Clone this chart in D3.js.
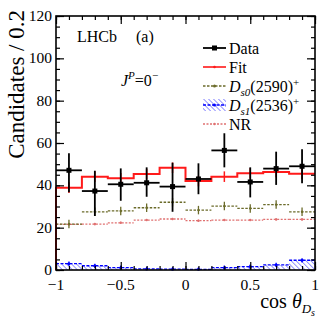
<!DOCTYPE html>
<html><head><meta charset="utf-8">
<script src="https://cdn.jsdelivr.net/npm/d3@7"></script>
<style>body{margin:0;background:#fff}svg{display:block}text{font-family:"Liberation Serif","Times New Roman",serif;fill:#000}</style>
</head><body><svg id="c" width="332" height="322"></svg>
<script>
const binCenters = [-0.9,-0.7,-0.5,-0.3,-0.1,0.1,0.3,0.5,0.7,0.9];
const binHalf = 0.1;
const dataVals  = [47.1,37.3,40.5,41.2,39.4,43.0,56.5,41.6,47.9,49.0];
const dataErrHi = [8.0,9.6,7.5,7.3,11.3,7.4,8.1,6.9,8.0,8.0];
const dataErrLo = [10.4,11.8,7.8,6.6,11.9,7.2,8.0,7.3,7.7,8.0];
const fitVals   = [38.9,44.1,43.3,45.3,48.3,42.0,44.1,45.7,46.3,45.5];
const fitErr    = [2.5,2.5,2.5,2.5,2.5,2.5,2.5,2.5,2.5,2.5];
const ds0Vals   = [21.7,27.5,27.9,29.4,32.0,28.3,30.2,29.1,30.9,27.5];
const ds0Err    = [2.0,2.0,2.0,2.0,2.0,2.0,2.0,2.0,2.0,2.0];
const ds1Vals   = [3.0,2.0,1.1,0.5,0.4,0.3,1.1,1.6,2.4,4.6];
const ds1Err    = [1.0,1.0,1.0,1.0,1.0,1.0,1.0,1.0,1.0,1.0];
const nrVals    = [21.6,21.7,22.3,23.6,24.1,23.3,23.6,23.6,23.9,23.9];
const nrErr     = [0.5,0.5,0.5,0.5,0.5,0.5,0.5,0.5,0.5,0.5];
const xMajorTicks = [-1,-0.5,0,0.5,1];
const xTickLabels = ["\u22121","\u22120.5","0","0.5","1"];
const yMajorTicks = [0,20,40,60,80,100,120];
const yTickLabels = ["0","20","40","60","80","100","120"];

const svg = d3.select("#c");
const x = d3.scaleLinear().domain([-1,1]).range([56,315]);
const y = d3.scaleLinear().domain([0,120]).range([270,16]);
const C = {data:"#000", fit:"#ff1a1a", ds0:"#6b6b2a", ds1:"#0000ff", hatch:"#6a6aff", nr:"#e07070"};

const defs = svg.append("defs");
const pat = defs.append("pattern").attr("id","hatch").attr("patternUnits","userSpaceOnUse")
  .attr("width",3.5).attr("height",3.5).attr("patternTransform","rotate(-45)");
pat.append("line").attr("x1",0).attr("y1",0).attr("x2",0).attr("y2",3.5)
  .attr("stroke",C.hatch).attr("stroke-width",1.4);

function stepPath(vals){
  let p = d3.path();
  p.moveTo(x(-1), y(0));
  vals.forEach((v,i)=>{ p.lineTo(x(binCenters[i]-binHalf), y(v)); p.lineTo(x(binCenters[i]+binHalf), y(v)); });
  return p.toString();
}
function stepArea(vals){
  return stepPath(vals) + `L${x(1)},${y(0)}Z`;
}

svg.append("path").attr("d", stepArea(ds1Vals)).attr("fill","url(#hatch)").attr("stroke","none");
function dashedHist(vals, errs, color, dash, marker){
  const g = svg.append("g");
  g.selectAll("line.h").data(vals).join("line")
    .attr("x1",(d,i)=>x(binCenters[i]-binHalf)).attr("x2",(d,i)=>x(binCenters[i]+binHalf))
    .attr("y1",d=>y(d)).attr("y2",d=>y(d))
    .attr("stroke",color).attr("stroke-width",1.3).attr("stroke-dasharray",dash);
  g.selectAll("line.v").data(vals).join("line")
    .attr("x1",(d,i)=>x(binCenters[i])).attr("x2",(d,i)=>x(binCenters[i]))
    .attr("y1",(d,i)=>y(d+errs[i])).attr("y2",(d,i)=>y(Math.max(0,d-errs[i])))
    .attr("stroke",color).attr("stroke-width",1.3);
  g.selectAll("circle").data(vals).join("circle")
    .attr("cx",(d,i)=>x(binCenters[i])).attr("cy",d=>y(d)).attr("r",marker).attr("fill",color);
}
dashedHist(nrVals, nrErr, C.nr, "2,1.5", 1.2);
dashedHist(ds0Vals, ds0Err, C.ds0, "2.5,1.5", 1.2);
dashedHist(ds1Vals, ds1Err, C.ds1, "3,1.5", 1.5);

svg.append("path").attr("d", stepPath(fitVals)).attr("fill","none").attr("stroke",C.fit).attr("stroke-width",2);
svg.append("g").selectAll("line").data(fitVals).join("line")
  .attr("x1",(d,i)=>x(binCenters[i])).attr("x2",(d,i)=>x(binCenters[i]))
  .attr("y1",(d,i)=>y(d+fitErr[i])).attr("y2",(d,i)=>y(d-fitErr[i]))
  .attr("stroke",C.fit).attr("stroke-width",1.5);

const gd = svg.append("g");
gd.selectAll("line.h").data(dataVals).join("line")
  .attr("x1",(d,i)=>x(binCenters[i]-binHalf)).attr("x2",(d,i)=>x(binCenters[i]+binHalf))
  .attr("y1",d=>y(d)).attr("y2",d=>y(d)).attr("stroke","#000").attr("stroke-width",1.8);
gd.selectAll("line.v").data(dataVals).join("line")
  .attr("x1",(d,i)=>x(binCenters[i])).attr("x2",(d,i)=>x(binCenters[i]))
  .attr("y1",(d,i)=>y(d+dataErrHi[i])).attr("y2",(d,i)=>y(d-dataErrLo[i]))
  .attr("stroke","#000").attr("stroke-width",1.8);
gd.selectAll("rect").data(dataVals).join("rect")
  .attr("x",(d,i)=>x(binCenters[i])-2.5).attr("y",d=>y(d)-2.5).attr("width",5).attr("height",5).attr("fill","#000");

function axisG(axis, tr){ const g = svg.append("g").attr("transform",tr).call(axis);
  g.selectAll("text").remove(); g.select(".domain").remove(); g.selectAll("line").attr("stroke","#000").attr("stroke-width",1.2); return g; }
const xMinor = d3.range(-1,1.0001,0.1).map(v=>+v.toFixed(2));
const yMinor = d3.range(0,120.001,5);
axisG(d3.axisBottom(x).tickValues(xMinor).tickSize(-4), `translate(0,${y(0)})`);
axisG(d3.axisBottom(x).tickValues(xMajorTicks).tickSize(-8), `translate(0,${y(0)})`);
axisG(d3.axisTop(x).tickValues(xMinor).tickSize(-4), `translate(0,${y(120)})`);
axisG(d3.axisTop(x).tickValues(xMajorTicks).tickSize(-8), `translate(0,${y(120)})`);
axisG(d3.axisLeft(y).tickValues(yMinor).tickSize(-4), `translate(${x(-1)},0)`);
axisG(d3.axisLeft(y).tickValues(yMajorTicks).tickSize(-8), `translate(${x(-1)},0)`);
axisG(d3.axisRight(y).tickValues(yMinor).tickSize(-4), `translate(${x(1)},0)`);
axisG(d3.axisRight(y).tickValues(yMajorTicks).tickSize(-8), `translate(${x(1)},0)`);
svg.append("rect").attr("x",x(-1)).attr("y",y(120)).attr("width",x(1)-x(-1)).attr("height",y(0)-y(120))
  .attr("fill","none").attr("stroke","#000").attr("stroke-width",1.6);

svg.append("g").selectAll("text").data(xMajorTicks).join("text")
  .attr("x",d=>x(d)).attr("y",290).attr("text-anchor","middle").attr("font-size",15.5).text((d,i)=>xTickLabels[i]);
svg.append("g").selectAll("text").data(yMajorTicks).join("text")
  .attr("x",52).attr("y",d=>y(d)).attr("dy","0.32em").attr("text-anchor","end").attr("font-size",15.5).text((d,i)=>yTickLabels[i]);

svg.append("text").attr("transform","translate(24,10) rotate(-90)").attr("text-anchor","end")
  .attr("font-size",23).text("Candidates / 0.2");
const xt = svg.append("text").attr("x",315).attr("y",308).attr("text-anchor","end").attr("font-size",20);
xt.append("tspan").text("cos ");
xt.append("tspan").attr("font-style","italic").text("\u03b8");
xt.append("tspan").attr("font-style","italic").attr("font-size",13).attr("dy",5).text("D");
xt.append("tspan").attr("font-style","italic").attr("font-size",10).attr("dy",3).text("s");

svg.append("text").attr("x",77).attr("y",42).attr("font-size",16).text("LHCb");
svg.append("text").attr("x",136).attr("y",42).attr("font-size",16).text("(a)");
const jp = svg.append("text").attr("x",121).attr("y",86).attr("font-size",16);
jp.append("tspan").attr("font-style","italic").text("J");
jp.append("tspan").attr("font-style","italic").attr("font-size",11).attr("dy",-7).text("P");
jp.append("tspan").attr("dy",7).text("=0");
jp.append("tspan").attr("font-size",11).attr("dy",-7).text("\u2212");

const legY = [48,67,86,105,124];
const lx0 = 203, lx1 = 226, tx = 229;
const lg = svg.append("g");
lg.append("line").attr("x1",lx0).attr("x2",lx1).attr("y1",legY[0]).attr("y2",legY[0]).attr("stroke","#000").attr("stroke-width",1.8);
lg.append("rect").attr("x",(lx0+lx1)/2-2.5).attr("y",legY[0]-2.5).attr("width",5).attr("height",5).attr("fill","#000");
lg.append("line").attr("x1",lx0).attr("x2",lx1).attr("y1",legY[1]).attr("y2",legY[1]).attr("stroke",C.fit).attr("stroke-width",1.6);
lg.append("circle").attr("cx",(lx0+lx1)/2).attr("cy",legY[1]).attr("r",1.3).attr("fill",C.fit);
lg.append("line").attr("x1",lx0).attr("x2",lx1).attr("y1",legY[2]).attr("y2",legY[2]).attr("stroke",C.ds0).attr("stroke-width",1.3).attr("stroke-dasharray","2.5,1.5");
lg.append("circle").attr("cx",(lx0+lx1)/2).attr("cy",legY[2]).attr("r",1.5).attr("fill",C.ds0);
lg.append("rect").attr("x",lx0).attr("y",legY[3]-6).attr("width",lx1-lx0).attr("height",12).attr("fill","url(#hatch)");
lg.append("line").attr("x1",lx0).attr("x2",lx1).attr("y1",legY[3]).attr("y2",legY[3]).attr("stroke",C.ds1).attr("stroke-width",1.3).attr("stroke-dasharray","3,1.5");
lg.append("circle").attr("cx",(lx0+lx1)/2).attr("cy",legY[3]).attr("r",1.5).attr("fill",C.ds1);
lg.append("line").attr("x1",lx0).attr("x2",lx1).attr("y1",legY[4]).attr("y2",legY[4]).attr("stroke",C.nr).attr("stroke-width",1.3).attr("stroke-dasharray","2,1.5");
lg.append("circle").attr("cx",(lx0+lx1)/2).attr("cy",legY[4]).attr("r",1.2).attr("fill",C.nr);

function legText(i){ return lg.append("text").attr("x",tx).attr("y",legY[i]).attr("dy","0.35em").attr("font-size",16); }
legText(0).text("Data");
legText(1).text("Fit");
function dLabel(t, sub, mass){
  t.append("tspan").attr("font-style","italic").text("D");
  t.append("tspan").attr("font-style","italic").attr("font-size",11).attr("dy",4).text(sub);
  t.append("tspan").attr("dy",-4).text(mass);
  t.append("tspan").attr("font-size",11).attr("dy",-6).text("+");
}
dLabel(legText(2),"s0","(2590)");
dLabel(legText(3),"s1","(2536)");
legText(4).text("NR");
</script></body></html>
